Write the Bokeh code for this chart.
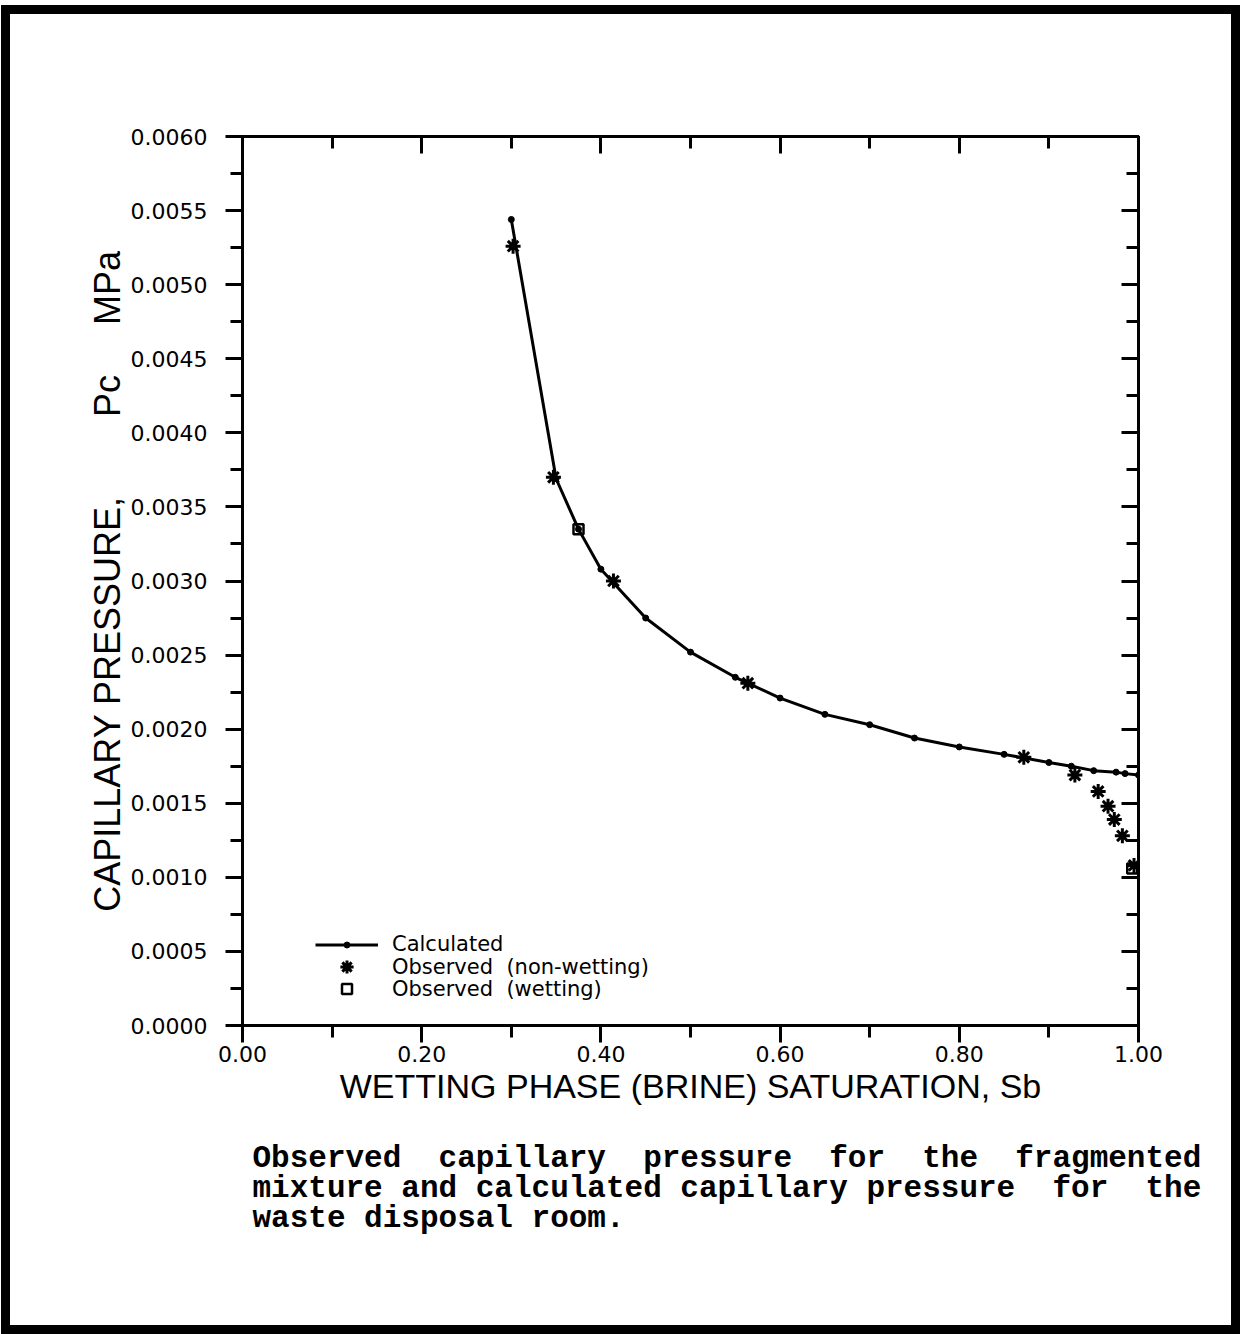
from bokeh.plotting import figure
from bokeh.models import (LinearAxis, FixedTicker, NumeralTickFormatter, Range1d,
                          Legend, LegendItem, Title)
from bokeh.embed import file_html
from bokeh.resources import INLINE

# ---- data ----
calc_sat = [0.30, 0.35, 0.375, 0.40, 0.45, 0.50, 0.55, 0.60, 0.65, 0.70, 0.75,
            0.80, 0.85, 0.90, 0.925, 0.95, 0.975, 0.985, 1.00]
calc_pc = [0.00544, 0.00369, 0.00335, 0.00308, 0.00275, 0.00252, 0.00235, 0.00221,
           0.00210, 0.00203, 0.00194, 0.00188, 0.00183, 0.001775, 0.00175, 0.00172,
           0.00171, 0.00170, 0.00169]

obs_nw_sat = [0.302, 0.347, 0.414, 0.564, 0.872, 0.929, 0.955, 0.966, 0.973, 0.982, 0.995]
obs_nw_pc = [0.00526, 0.00370, 0.00300, 0.00231, 0.00181, 0.00169, 0.00158, 0.00148,
             0.00139, 0.00128, 0.00108]

obs_w_sat = [0.375, 0.993]
obs_w_pc = [0.00335, 0.00106]

x_major = [0.0, 0.2, 0.4, 0.6, 0.8, 1.0]
x_minor = [0.1, 0.3, 0.5, 0.7, 0.9]
y_major = [0.0000, 0.0005, 0.0010, 0.0015, 0.0020, 0.0025, 0.0030,
           0.0035, 0.0040, 0.0045, 0.0050, 0.0055, 0.0060]
y_minor = [0.00025, 0.00075, 0.00125, 0.00175, 0.00225, 0.00275,
           0.00325, 0.00375, 0.00425, 0.00475, 0.00525, 0.00575]

x_title = "WETTING PHASE (BRINE) SATURATION, Sb"
y_title = ("CAPILLARY PRESSURE," + "\u00a0" * 7 + " Pc" + "\u00a0" * 4 + " MPa")
legend_labels = ["Calculated", "Observed\u00a0 (non-wetting)", "Observed\u00a0 (wetting)"]
caption_lines = [
    "Observed\u00a0 capillary\u00a0 pressure\u00a0 for\u00a0 the\u00a0 fragmented",
    "mixture and calculated capillary pressure\u00a0 for\u00a0 the",
    "waste disposal room.",
]

# ---- figure (placed 10px / 14px in, so that a frame line can go round it) ----
p = figure(width=1221, height=1311, output_backend="svg", toolbar_location=None,
           x_range=Range1d(0, 1), y_range=Range1d(0, 0.006),
           x_axis_location=None, y_axis_location=None,
           min_border_left=232, min_border_right=93, min_border_top=122,
           min_border_bottom=300)
p.grid.visible = False
p.outline_line_color = "black"
p.outline_line_width = 3
p.background_fill_color = "white"
p.border_fill_color = "white"
p.styles = {"margin-left": "10px", "margin-top": "14px",
            "outline": "9px solid black"}

xt = FixedTicker(ticks=x_major, minor_ticks=x_minor)
yt = FixedTicker(ticks=y_major, minor_ticks=y_minor)


def style_axis(ax, inward):
    ax.axis_line_width = 3
    ax.axis_line_color = "black"
    ax.major_tick_line_width = 3
    ax.minor_tick_line_width = 3
    ax.major_tick_line_color = "black"
    ax.minor_tick_line_color = "black"
    if inward:
        ax.major_tick_in = 17
        ax.major_tick_out = 0
        ax.minor_tick_in = 12
        ax.minor_tick_out = 0
        ax.major_label_text_color = None
        ax.major_label_standoff = 0
    else:
        ax.major_tick_in = 0
        ax.major_tick_out = 17
        ax.minor_tick_in = 0
        ax.minor_tick_out = 12
        ax.major_label_text_font = "DejaVu Sans"
        ax.major_label_text_font_size = "22px"
        ax.major_label_text_color = "black"
        ax.axis_label_text_font = "Liberation Sans"
        ax.axis_label_text_font_style = "normal"
        ax.axis_label_text_color = "black"


bottom = LinearAxis(ticker=xt, formatter=NumeralTickFormatter(format="0.00"),
                    axis_label=x_title)
style_axis(bottom, False)
bottom.axis_label_text_font_size = "34px"
bottom.major_label_standoff = 3
bottom.axis_label_standoff = 2
left = LinearAxis(ticker=yt, formatter=NumeralTickFormatter(format="0.0000"),
                  axis_label=y_title)
style_axis(left, False)
left.axis_label_text_font_size = "36px"
left.major_label_standoff = 18
left.axis_label_standoff = 0
top = LinearAxis(ticker=xt)
style_axis(top, True)
right = LinearAxis(ticker=yt)
style_axis(right, True)
p.add_layout(bottom, "below")
p.add_layout(left, "left")
p.add_layout(top, "above")
p.add_layout(right, "right")

# ---- marks ----
calc_line = p.line(calc_sat, calc_pc, line_color="black", line_width=3)
calc_dots = p.scatter(calc_sat, calc_pc, marker="circle", size=6,
                      fill_color="black", line_color="black")
nw = p.scatter(obs_nw_sat, obs_nw_pc, marker="asterisk", size=15,
               line_color="black", line_width=3)
w = p.scatter(obs_w_sat, obs_w_pc, marker="square", size=10,
              fill_color=None, line_color="black", line_width=2.5)


# ---- legend: one row per Legend so that each row can have its own glyph size ----
def legend_row(label, renderers, glyph_h, loc_y):
    lg = Legend(items=[LegendItem(label=label, renderers=renderers)],
                location=(73, loc_y))
    lg.background_fill_alpha = 0
    lg.border_line_alpha = 0
    lg.label_text_font = "DejaVu Sans"
    lg.label_text_font_size = "21px"
    lg.label_text_color = "black"
    lg.glyph_width = 63
    lg.glyph_height = glyph_h
    lg.label_height = glyph_h
    lg.label_standoff = 14
    lg.spacing = 0
    lg.padding = 0
    lg.margin = 0
    p.add_layout(lg, "center")


legend_row(legend_labels[0], [calc_line, calc_dots], 15, 69)
legend_row(legend_labels[1], [nw], 33, 42)
legend_row(legend_labels[2], [w], 25, 24)

# ---- caption below the axis ----
caption = Title(text="\n".join(caption_lines), align="left", offset=10, standoff=62,
                text_font="Liberation Mono", text_font_size="31px",
                text_font_style="bold", text_color="black", text_line_height=0.85)
p.add_layout(caption, "below")

open("out.html", "w").write(file_html(p, INLINE))
